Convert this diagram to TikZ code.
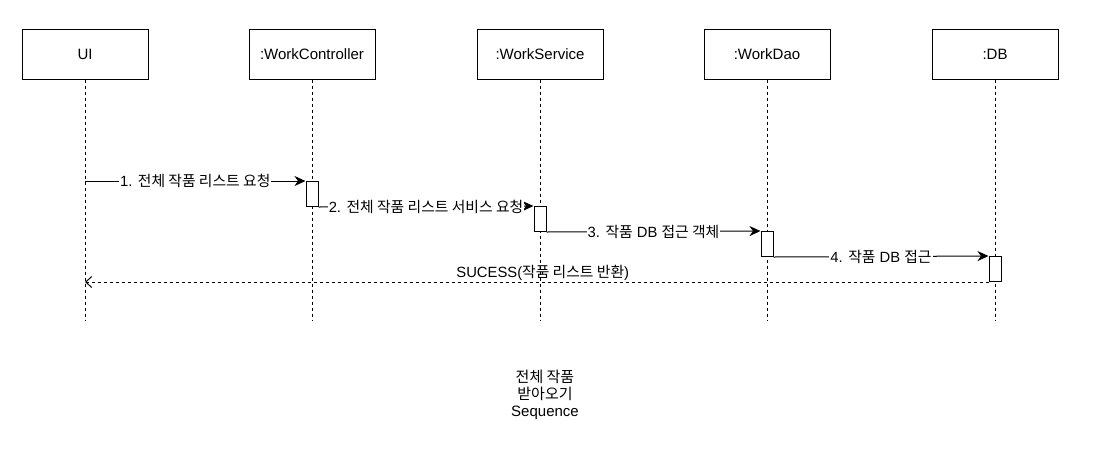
\documentclass[tikz,border=0pt]{standalone}
\usepackage{fontspec}
\setmainfont{Liberation Sans}
\newfontfamily\kr{Noto Sans CJK KR}
\usepackage{tikz}
\usetikzlibrary{arrows.meta, calc, positioning}

\begin{document}
\begin{tikzpicture}[x=1pt, y=-1pt,
    lifebox/.style={draw, line width=1pt, minimum width=126pt, minimum height=50pt, inner sep=0pt, font=\fontsize{15}{17}\selectfont},
    lifeline/.style={line width=1pt, dash pattern=on 3pt off 3pt},
    actbar/.style={draw, line width=1pt, fill=white, minimum width=12pt, minimum height=25pt, inner sep=0pt},
    callmsg/.style={line width=1pt, -{Stealth[length=11pt, width=10pt, inset=3.5pt]}},
    retmsg/.style={line width=1pt, dash pattern=on 3pt off 3pt, -{Straight Barb[length=6pt, width=11pt]}},
    msglabel/.style={fill=white, inner sep=1pt, font=\fontsize{14.8}{16}\selectfont}]
    \useasboundingbox (0,0) rectangle (1100,467);

    % 객체 박스
    \node[lifebox] (ui)   at (85,54)  {UI};
    \node[lifebox] (ctrl) at (312,54) {:WorkController};
    \node[lifebox] (svc)  at (540,54) {:WorkService};
    \node[lifebox] (dao)  at (767,54) {:WorkDao};
    \node[lifebox] (db)   at (995,54) {:DB};

    % 생명선
    \foreach \obj in {ui, ctrl, svc, dao, db} {
        \coordinate (\obj-end) at ($(\obj.south)+(0,241)$);
        \draw[lifeline] (\obj.south) -- (\obj-end);
    }

    % 활성 막대
    \node[actbar, anchor=north] (ctrlbar) at (312,181) {};
    \node[actbar, anchor=north] (svcbar)  at (540,206) {};
    \node[actbar, anchor=north] (daobar)  at (767,231) {};
    \node[actbar, anchor=north] (dbbar)   at (995,256) {};

    % 메시지
    \draw[callmsg] (ui |- ctrlbar.north) -- node[msglabel] {1. {\kr 전체 작품 리스트 요청}} (ctrlbar.north west);
    \draw[callmsg] (ctrlbar.south east) -- node[msglabel] {2. {\kr 전체 작품 리스트 서비스 요청}} (svcbar.north west);
    \draw[callmsg] (svcbar.south east) -- node[msglabel] {3. {\kr 작품} DB {\kr 접근 객체}} (daobar.north west);
    \draw[callmsg] (daobar.south east) -- node[msglabel] {4. {\kr 작품} DB {\kr 접근}} (dbbar.north west);

    % 반환
    \draw[retmsg] (dbbar.south west) -- node[above, inner sep=1pt, font=\fontsize{14.8}{16}\selectfont, xshift=6pt] {SUCESS({\kr 작품 리스트 반환})} (ui |- dbbar.south);

    % 제목
    \node[align=center, font=\fontsize{15}{17}\selectfont] (title) at (545,395) {{\kr 전체 작품}\\{\kr 받아오기}\\Sequence};
\end{tikzpicture}
\end{document}
